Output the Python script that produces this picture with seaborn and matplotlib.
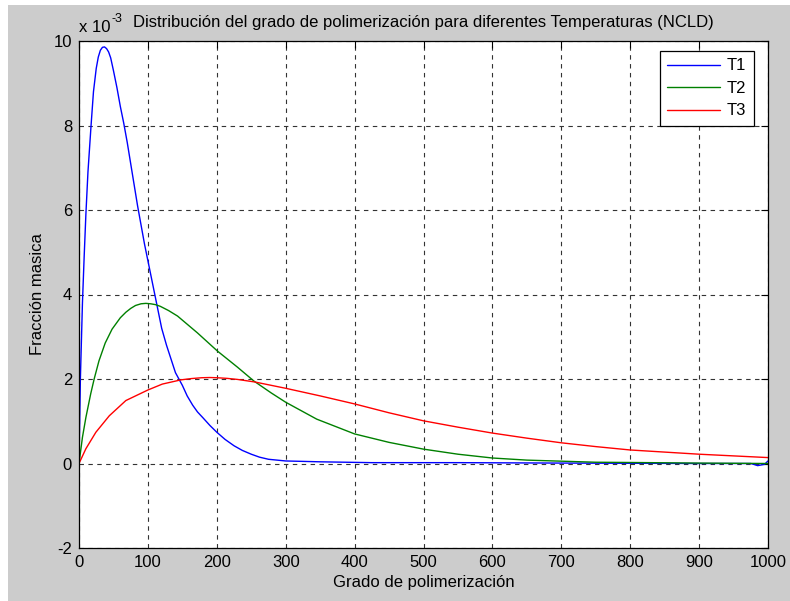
import matplotlib
matplotlib.use("Agg")
import matplotlib.pyplot as plt
from matplotlib.patches import Rectangle
import seaborn as sns
import pandas as pd

# values, y in units of 1e-3
t1_x = [0, 1, 2, 3, 5, 7.5, 10, 13, 17.5, 21, 25, 28, 31, 34, 37, 40, 43, 46, 50,
        55, 60, 65, 70, 75, 80, 85, 90, 95, 100, 105, 110, 115, 120, 127, 135,
        140, 150, 157, 165, 172, 180, 190, 200, 212, 225, 237, 250, 262, 275,
        300, 350, 425, 550, 700, 900, 975, 985, 995, 1000]
t1_y = [0, 1.0, 2.0, 2.6, 3.8, 4.9, 5.9, 6.9, 8.0, 8.8, 9.35, 9.62, 9.78, 9.85,
        9.86, 9.82, 9.74, 9.6, 9.3, 8.9, 8.45, 8.05, 7.6, 7.1, 6.6, 6.1, 5.65,
        5.2, 4.8, 4.4, 4.0, 3.6, 3.2, 2.8, 2.4, 2.15, 1.85, 1.6, 1.38, 1.22,
        1.08, 0.9, 0.74, 0.57, 0.42, 0.31, 0.22, 0.15, 0.1, 0.06, 0.04, 0.02,
        0.02, 0.01, 0.0, 0.0, -0.05, -0.02, 0.06]

t2_x = [0, 5, 10, 17, 22, 29, 38, 48, 60, 68, 75, 82, 90, 97, 104, 111, 118, 130,
        143, 172, 201, 230, 254, 279, 300, 345, 400, 450, 500, 550, 600, 650,
        700, 750, 800, 900, 1000]
t2_y = [0, 0.62, 1.09, 1.65, 2.0, 2.43, 2.85, 3.18, 3.45, 3.58, 3.67, 3.74, 3.78,
        3.79, 3.78, 3.76, 3.72, 3.62, 3.49, 3.09, 2.66, 2.28, 1.95, 1.67, 1.45,
        1.05, 0.70, 0.5, 0.34, 0.22, 0.13, 0.08, 0.055, 0.03, 0.024, 0.01, 0.0]

t3_x = [0, 10, 24.5, 44, 68, 100, 121, 148, 163, 178, 190, 200, 215, 230, 255,
        300, 350, 400, 450, 500, 550, 600, 650, 700, 750, 800, 850, 900, 950, 1000]
t3_y = [0, 0.35, 0.74, 1.13, 1.49, 1.74, 1.88, 1.98, 2.01, 2.03, 2.035, 2.03,
        2.015, 1.99, 1.93, 1.78, 1.6, 1.41, 1.2, 1.01, 0.86, 0.72, 0.6, 0.49,
        0.4, 0.32, 0.27, 0.22, 0.18, 0.14]

series = ["T1", "T2", "T3"]
colors = {"T1": "#0000ff", "T2": "#008000", "T3": "#ff0000"}

df = pd.DataFrame({
    "x": t1_x + t2_x + t3_x,
    "y": t1_y + t2_y + t3_y,
    "serie": ["T1"] * len(t1_x) + ["T2"] * len(t2_x) + ["T3"] * len(t3_x),
})

sns.set_style("white")
plt.rcParams["font.family"] = ["Liberation Sans", "DejaVu Sans"]
plt.rcParams["font.size"] = 12
plt.rcParams["text.color"] = "black"
plt.rcParams["axes.labelcolor"] = "black"

fig = plt.figure(figsize=(7.9, 6.01), dpi=100, facecolor="white")
fig.patches.append(Rectangle((8 / 790, 0), 1, 596 / 601, transform=fig.transFigure,
                             facecolor="#cccccc", edgecolor="none", zorder=-10))
ax = fig.add_axes([79 / 790, 53 / 601, 689 / 790, 507 / 601])
ax.set_facecolor("white")

sns.lineplot(data=df, x="x", y="y", hue="serie", hue_order=series, palette=colors,
             estimator=None, sort=False, linewidth=1.0, ax=ax, legend=False)

ax.set_xlim(0, 1000)
ax.set_ylim(-2, 10)
ax.set_xticks(range(0, 1001, 100))
ax.set_yticks(range(-2, 11, 2))
ax.set_yticklabels([str(v) for v in range(-2, 11, 2)])
ax.tick_params(direction="in", length=5, width=0.8, top=True, right=True,
               labelsize=12, colors="black", pad=5)
ax.grid(True, color="#333333", linestyle=(0, (4, 4)), linewidth=0.8)
for s in ax.spines.values():
    s.set_color("black")
    s.set_linewidth(0.9)

ax.set_title("Distribución del grado de polimerización para diferentes Temperaturas (NCLD)",
             fontsize=12, pad=10, color="black")
ax.set_xlabel("Grado de polimerización", fontsize=12, labelpad=4)
ax.set_ylabel("Fracción masica", fontsize=12, labelpad=6)

# offset factor written by hand, as in the original
ax.text(0.0, 1.012, "x 10", transform=ax.transAxes, fontsize=12,
        ha="left", va="bottom")
ax.annotate("-3", xy=(0.0, 1.012), xycoords="axes fraction", xytext=(23.5, 7),
            textcoords="offset points", fontsize=9, ha="left", va="bottom")

handles = [plt.Line2D([0], [0], color=colors[s], lw=1.0) for s in series]
leg = ax.legend(handles, series, loc="upper right", bbox_to_anchor=(0.9797, 0.9803),
                borderaxespad=0, fancybox=False, framealpha=1, edgecolor="black",
                fontsize=12, handlelength=3.2, handletextpad=0.4,
                labelspacing=0.45, borderpad=0.45)
leg.get_frame().set_linewidth(0.9)

fig.savefig("out.png", dpi=100, facecolor=fig.get_facecolor())
